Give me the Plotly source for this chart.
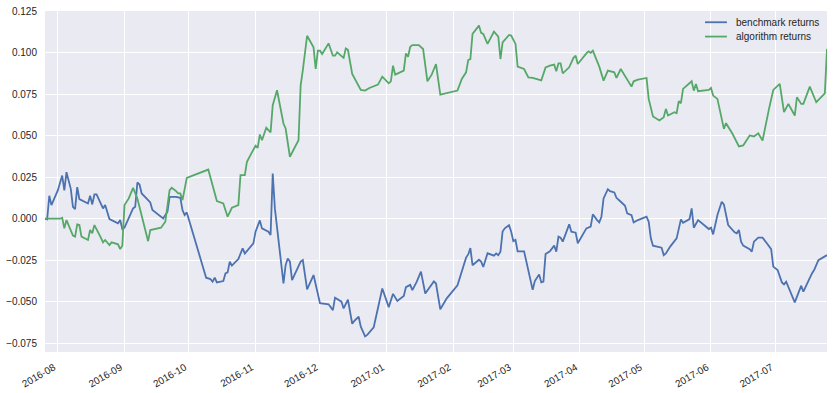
import plotly.graph_objects as go

# ---------------- data ----------------
bench_dates = (
    ["2016-07-26", "2016-07-27", "2016-07-28", "2016-07-29"]
    + ["2016-08-%s" % d for d in ["01", "03", "04", "05", "07", "08", "09", "10", "11", "15", "16", "17", "18", "19", "22", "23", "25", "26", "29", "30", "31"]]
    + ["2016-09-%s" % d for d in ["01", "05", "06", "07", "08", "09", "12", "13", "14", "19", "21", "22", "25", "27", "28", "29", "30"]]
    + ["2016-10-%s" % d for d in ["09", "11", "12", "13", "14", "17", "18", "19", "20", "21", "24", "26", "27", "31"]]
    + ["2016-11-%s" % d for d in ["01", "03", "04", "07", "08", "09", "10", "14", "15", "16", "17", "18", "22", "23", "25", "28"]]
    + ["2016-12-%s" % d for d in ["01", "05", "07", "08", "11", "12", "14", "16", "17", "19", "20", "22", "23", "26", "28", "30"]]
    + ["2017-01-%s" % d for d in ["02", "04", "06", "09", "10", "12", "13", "15", "17", "19", "23", "24", "26", "29"]]
    + ["2017-02-%s" % d for d in ["03", "05", "07", "08", "09", "10", "13", "14", "15", "17", "20", "21", "22", "23", "24", "25", "27", "28"]]
    + ["2017-03-%s" % d for d in ["01", "02", "03", "06", "08", "10", "11", "13", "14", "15", "16", "18", "20", "21", "22", "23", "24", "26", "27", "28", "30", "31"]]
    + ["2017-04-%s" % d for d in ["04", "06", "07", "09", "10", "11", "12", "14", "15", "17", "18", "20", "22", "23", "25", "26", "28"]]
    + ["2017-05-%s" % d for d in ["02", "03", "04", "05", "09", "10", "11", "13", "16", "17", "18", "19", "22", "23", "24", "26", "29", "31"]]
    + ["2017-06-%s" % d for d in ["01", "02", "04", "06", "07", "09", "12", "13", "14", "15", "16", "19", "20", "21", "23", "25", "27", "29", "30"]]
    + ["2017-07-%s" % d for d in ["02", "04", "05", "06", "10", "13", "14", "18", "19", "21", "23", "25"]]
)
bench_values = [
    0.0, -0.0004, 0.0138, 0.0082,
    0.0172, 0.026, 0.017, 0.028, 0.018, 0.0072, 0.0058, 0.019, 0.0118, 0.0092, 0.0138, 0.0086, 0.0146, 0.0146, 0.0062, 0.0082, -0.0002, -0.0008, -0.0028, -0.0008, -0.0062,
    -0.0054, 0.0062, 0.0072, 0.0218, 0.0206, 0.0152, 0.0112, 0.0098, 0.0052, 0.0002, 0.0042, 0.0132, 0.0132, 0.0126, 0.0052, 0.0022, 0.0038,
    -0.0355, -0.0363, -0.0379, -0.0355, -0.0383, -0.0375, -0.0329, -0.0323, -0.0258, -0.0282, -0.0243, -0.0178, -0.0209, -0.0148,
    -0.0078, -0.001, -0.0058, -0.0078, -0.0098, 0.0272, 0.0062, -0.0389, -0.0279, -0.0239, -0.0258, -0.0369, -0.0258, -0.0249, -0.0425, -0.0339,
    -0.0508, -0.0515, -0.055, -0.0475, -0.0499, -0.054, -0.0487, -0.0632, -0.0615, -0.059, -0.065, -0.0708, -0.0699, -0.0653, -0.0539, -0.042,
    -0.0532, -0.0452, -0.0495, -0.0465, -0.0412, -0.0398, -0.043, -0.038, -0.0318, -0.045, -0.0377, -0.039, -0.0545, -0.0479,
    -0.04, -0.0319, -0.0234, -0.0215, -0.0177, -0.028, -0.0247, -0.0258, -0.029, -0.0208, -0.0222, -0.0209, -0.0219, -0.0198, -0.0077, -0.0058, -0.0039, -0.0078,
    -0.0135, -0.0128, -0.0196, -0.0196, -0.0319, -0.0428, -0.0375, -0.0335, -0.0383, -0.0378, -0.0213, -0.0196, -0.0162, -0.0198, -0.0108, -0.0114, -0.0138, -0.0074, -0.0034, -0.0078, -0.0084, -0.0148,
    -0.0058, -0.0048, 0.0026, -0.0008, -0.0022, 0.0012, 0.0122, 0.0178, 0.0166, 0.0158, 0.0126, 0.0102, 0.0078, 0.0032, 0.0022, -0.0022, -0.0008,
    0.0012, -0.0018, -0.0118, -0.0162, -0.0174, -0.0219, -0.0209, -0.0168, -0.0118, -0.0068, -0.0004, -0.0024, -0.0002, 0.0062, -0.0054, -0.0008, -0.0038, -0.0062,
    -0.0054, -0.0094, 0.0022, 0.0102, 0.0086, -0.0038, -0.0082, -0.0088, -0.0068, -0.0138, -0.0162, -0.0183, -0.0198, -0.0138, -0.0114, -0.0114, -0.0148, -0.0183, -0.0288,
    -0.0309, -0.0383, -0.0395, -0.0379, -0.0503, -0.0403, -0.0439, -0.0329, -0.0309, -0.0249, -0.0234, -0.0219,
]

algo_dates = (
    ["2016-07-26"]
    + ["2016-08-%s" % d for d in ["02", "03", "04", "05", "08", "09", "10", "11", "12", "15", "16", "17", "18", "21", "22", "23", "25", "26", "29", "30", "31"]]
    + ["2016-09-%s" % d for d in ["01", "03", "05", "07", "12", "13", "18", "20", "22", "23", "25", "26", "27", "28", "30"]]
    + ["2016-10-%s" % d for d in ["10", "14", "17", "19", "21", "24", "25", "27", "28", "30"]]
    + ["2016-11-%s" % d for d in ["01", "02", "03", "04", "06", "08", "09", "11", "14", "15", "17", "21", "22", "23", "25", "28", "29", "30"]]
    + ["2016-12-%s" % d for d in ["01", "02", "05", "07", "08", "09", "12", "13", "14", "16", "18", "20", "22", "24", "28", "30"]]
    + ["2017-01-%s" % d for d in ["02", "03", "04", "05", "09", "10", "11", "12", "13", "16", "18", "20", "22", "24", "26"]]
    + ["2017-02-%s" % d for d in ["03", "05", "07", "08", "09", "10", "13", "14", "15", "17", "20", "22", "23", "24", "27", "28"]]
    + ["2017-03-%s" % d for d in ["02", "03", "06", "08", "10", "14", "16", "18", "20", "21", "22", "23", "24", "27", "29", "30", "31"]]
    + ["2017-04-%s" % d for d in ["04", "05", "06", "07", "10", "12", "14", "17", "18", "20", "25", "26", "28"]]
    + ["2017-05-%s" % d for d in ["02", "03", "05", "08", "10", "11", "12", "15", "16", "17", "18", "19", "23", "24", "25", "26", "31"]]
    + ["2017-06-%s" % d for d in ["01", "02", "04", "07", "08", "11", "14", "16", "19", "21", "23", "25", "28", "30"]]
    + ["2017-07-%s" % d for d in ["03", "05", "07", "10", "11", "13", "14", "17", "20", "22", "24", "25"]]
)
algo_values = [
    0.0,
    0.0, 0.0006, -0.0058, -0.0008, -0.0102, -0.0108, -0.0034, -0.0038, -0.0108, -0.0128, -0.0068, -0.0088, -0.0038, -0.0114, -0.0142, -0.0128, -0.0158, -0.0142, -0.0154, -0.0183, -0.0162,
    0.0082, 0.0122, 0.0186, 0.0122, -0.0135, -0.0068, -0.0054, -0.0018, 0.0172, 0.0186, 0.0166, 0.0152, 0.0152, 0.0112, 0.0246,
    0.0296, 0.0106, 0.0092, 0.0012, 0.0066, 0.0082, 0.0262, 0.0262, 0.0343, 0.0392,
    0.0439, 0.0427, 0.0507, 0.0472, 0.0547, 0.0519, 0.0683, 0.0773, 0.0573, 0.0543, 0.0373, 0.0472, 0.0803, 0.0893, 0.1101, 0.1031, 0.0901, 0.1011,
    0.1011, 0.0991, 0.1055, 0.0981, 0.0981, 0.1001, 0.0968, 0.1025, 0.1016, 0.0871, 0.0825, 0.0775, 0.0771, 0.0787, 0.0807, 0.0855,
    0.0815, 0.0827, 0.0921, 0.0867, 0.0891, 0.0995, 0.0975, 0.1035, 0.1045, 0.1045, 0.1021, 0.0827, 0.0867, 0.0931, 0.0747,
    0.0771, 0.0841, 0.0881, 0.0955, 0.0961, 0.1112, 0.1162, 0.1118, 0.1112, 0.1052, 0.1126, 0.1096, 0.0961, 0.1061, 0.1106, 0.1102,
    0.1052, 0.0915, 0.0901, 0.0851, 0.0847, 0.0832, 0.091, 0.0921, 0.0927, 0.0887, 0.0935, 0.0935, 0.0875, 0.0911, 0.0968, 0.0981, 0.0931,
    0.0995, 0.1007, 0.0998, 0.1011, 0.0915, 0.0831, 0.0891, 0.0881, 0.0847, 0.0901, 0.0795, 0.0827, 0.0837,
    0.0847, 0.0721, 0.0615, 0.0591, 0.0611, 0.0661, 0.0621, 0.0641, 0.0635, 0.0707, 0.0695, 0.0781, 0.0827, 0.0771, 0.0811, 0.0767, 0.0775,
    0.0787, 0.0741, 0.0721, 0.0541, 0.0575, 0.0511, 0.0435, 0.0441, 0.0501, 0.0495, 0.0514, 0.0471, 0.0661, 0.0775,
    0.0811, 0.0641, 0.0691, 0.0621, 0.0731, 0.0691, 0.0691, 0.0795, 0.0701, 0.0731, 0.0755, 0.1022,
]

series_names = ["benchmark returns", "algorithm returns"]
series_colors = ["#4C72B0", "#55A868"]

x_range = ["2016-07-26", "2017-07-25"]
y_range = [-0.0802, 0.125]

assert len(bench_dates) == len(bench_values), (len(bench_dates), len(bench_values))
assert len(algo_dates) == len(algo_values), (len(algo_dates), len(algo_values))

# ---------------- figure ----------------
fig = go.Figure()
for xs, ys, name, color in [
    (bench_dates, bench_values, series_names[0], series_colors[0]),
    (algo_dates, algo_values, series_names[1], series_colors[1]),
]:
    fig.add_trace(go.Scatter(x=xs, y=ys, mode="lines", name=name,
                             line=dict(color=color, width=1.8)))

# frameless legend drawn in the upper-right corner (matplotlib style)
legend_rows_y = [0.967, 0.925]
for name, color, ly in zip(series_names, series_colors, legend_rows_y):
    fig.add_shape(type="line", xref="paper", yref="paper",
                  x0=0.844, x1=0.872, y0=ly, y1=ly,
                  line=dict(color=color, width=1.8))
    fig.add_annotation(xref="paper", yref="paper", x=0.881, y=ly,
                       xanchor="left", yanchor="middle", showarrow=False,
                       text=name, font=dict(size=10, color="#262626"))

fig.update_layout(
    width=833, height=393,
    margin=dict(l=45, r=6, t=11, b=41, pad=0),
    paper_bgcolor="white",
    plot_bgcolor="#EAEAF2",
    font=dict(family="Liberation Sans, Arial, sans-serif", size=10, color="#262626"),
    showlegend=False,
    xaxis=dict(
        type="date", range=x_range, tick0="2016-08-01", dtick="M1",
        tickformat="%Y-%m", tickangle=-30,
        showgrid=True, gridcolor="white", gridwidth=1,
        zeroline=False, showline=False, ticks="",
        ticklabelstandoff=7, ticklabelshift=-4, automargin=False,
    ),
    yaxis=dict(
        range=y_range, tick0=0, dtick=0.025, tickformat=".3f",
        showgrid=True, gridcolor="white", gridwidth=1,
        zeroline=False, showline=False, ticks="",
        ticklabelstandoff=7, automargin=False,
    ),
)

fig.write_html("out.html", config={"displayModeBar": False},
               post_script="document.body.style.margin='0';document.body.style.padding='0';")
